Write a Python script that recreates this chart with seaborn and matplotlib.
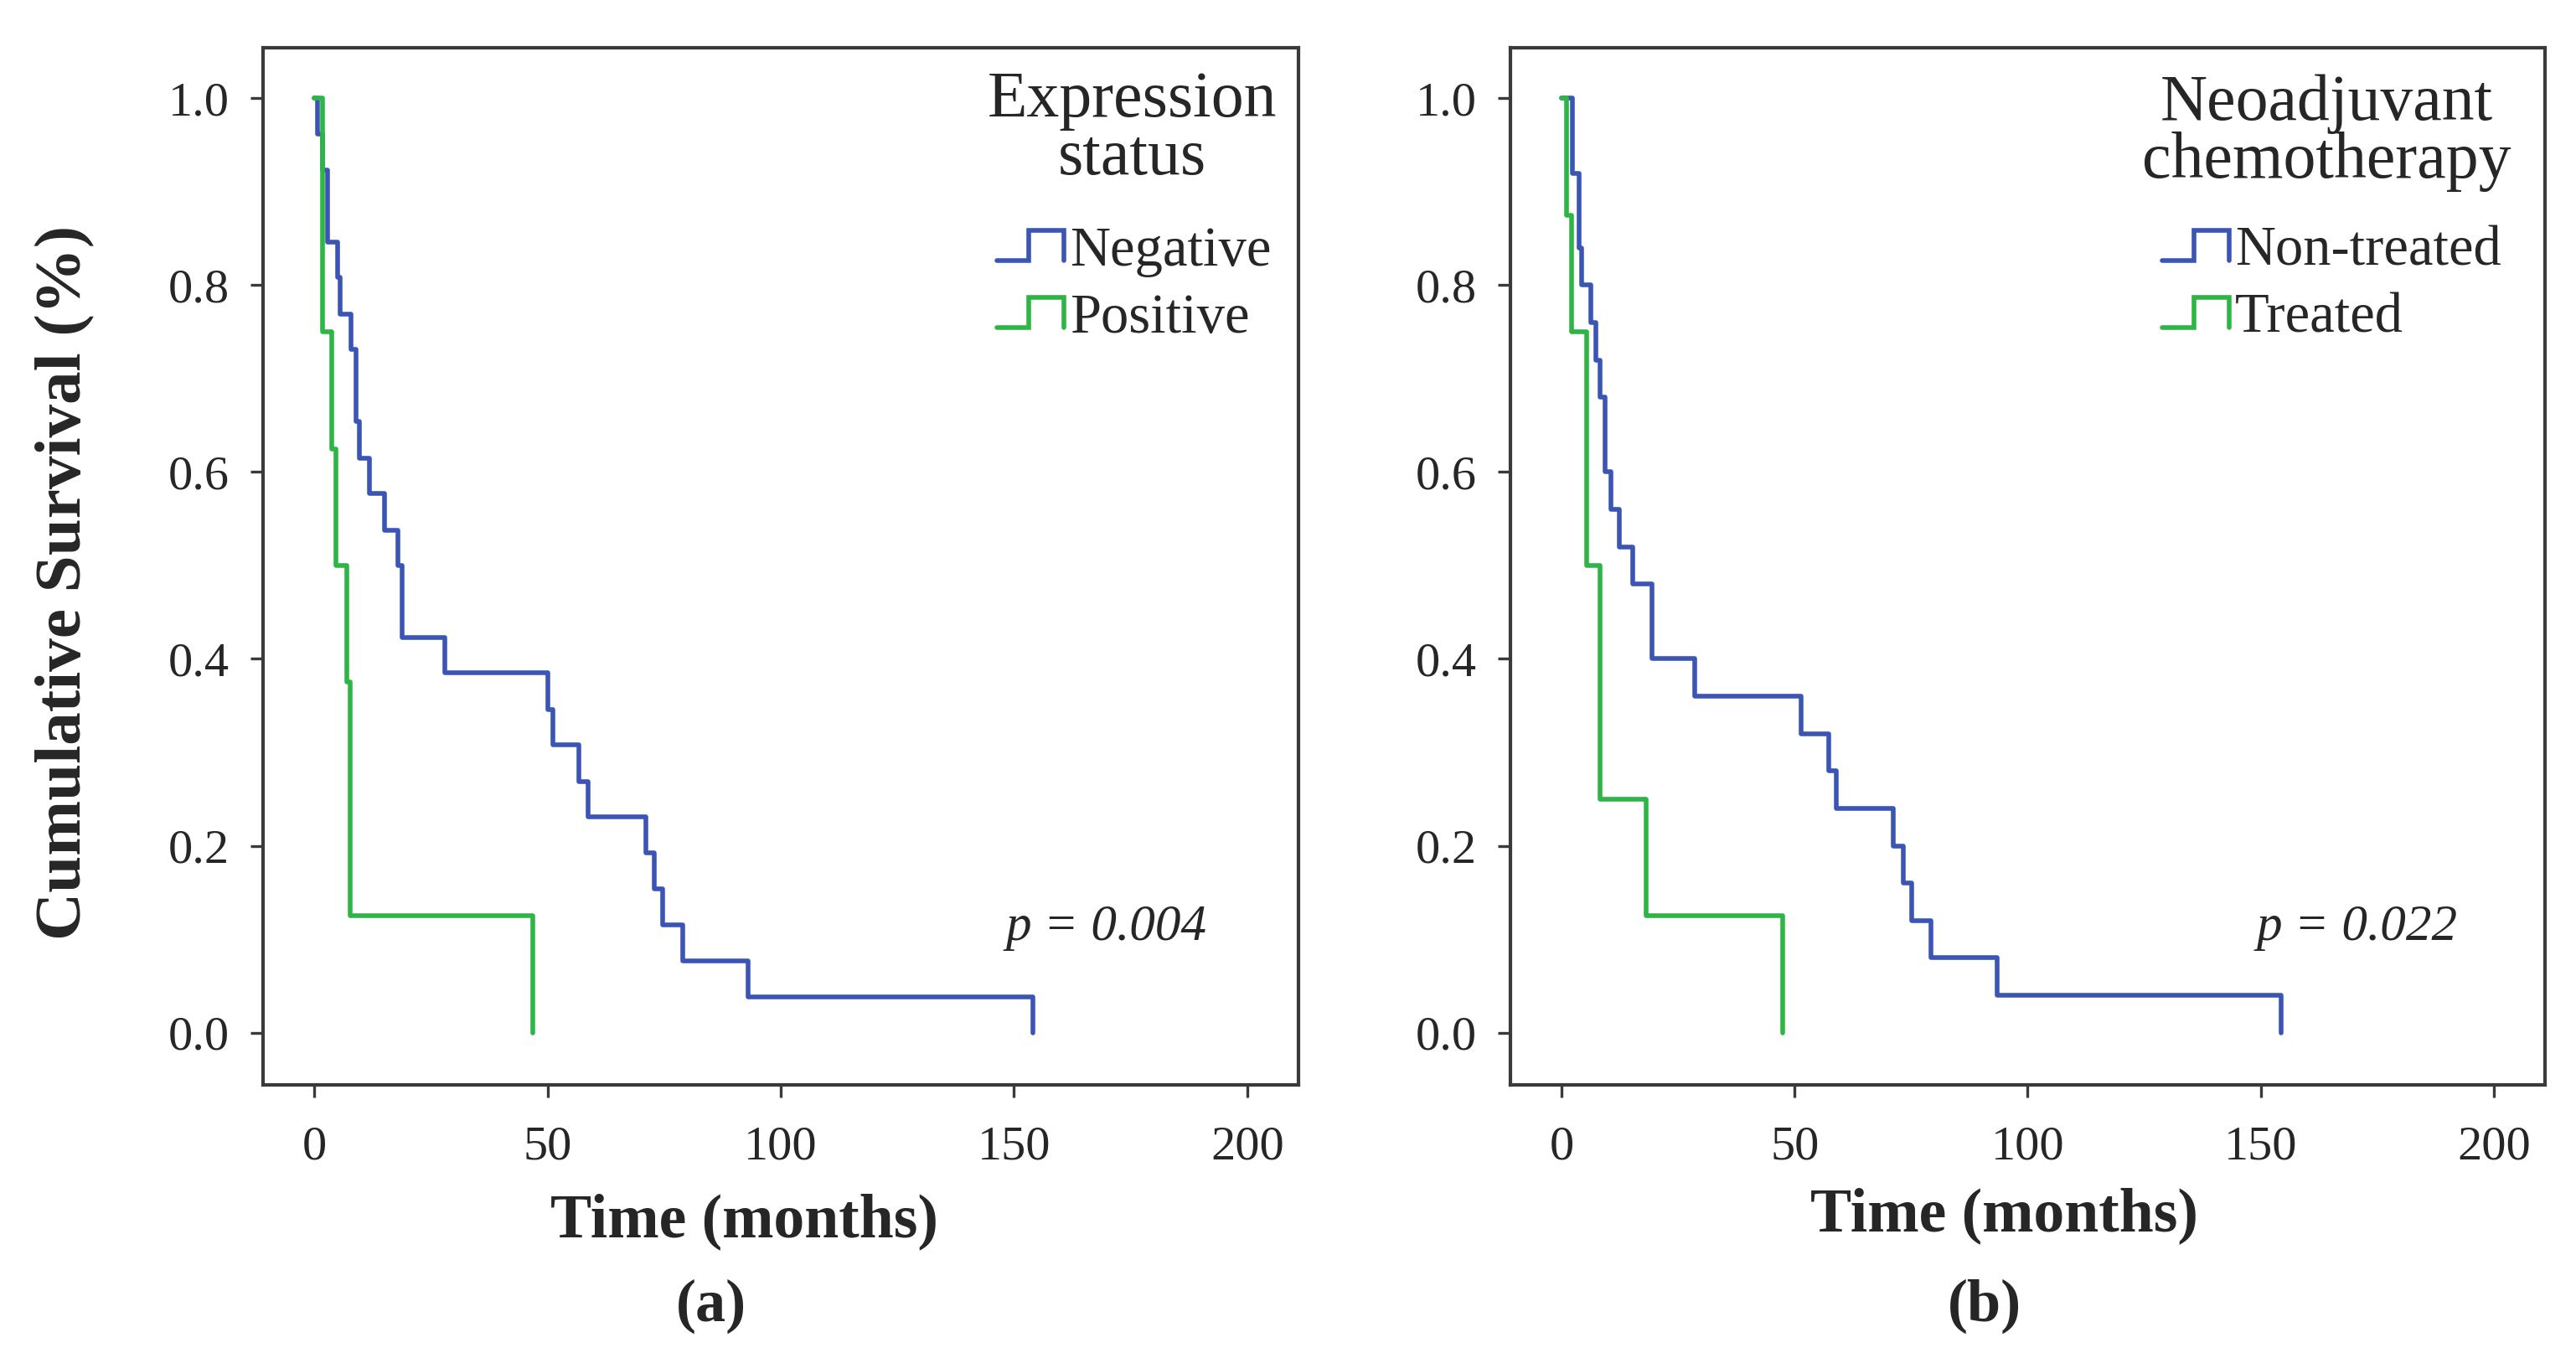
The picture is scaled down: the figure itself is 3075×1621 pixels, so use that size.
import numpy as np
import pandas as pd
import matplotlib.pyplot as plt
import seaborn as sns
from matplotlib.lines import Line2D
from matplotlib.legend_handler import HandlerBase

# (a) expression status - Kaplan-Meier steps
neg_t = [0, 0.6, 1.7, 2.8, 5.0, 5.6, 7.8, 9.0, 9.7, 11.9, 15.0, 18.0, 18.8, 27.9,
         50.0, 51.1, 56.8, 58.6, 71.0, 72.9, 74.6, 79.0, 93.0, 154.0]
neg_s = [1.0, 0.962, 0.923, 0.846, 0.808, 0.769, 0.731, 0.654, 0.615, 0.577, 0.538,
         0.5, 0.423, 0.385, 0.346, 0.308, 0.269, 0.231, 0.192, 0.154, 0.115, 0.077,
         0.038, 0.0]
pos_t = [0, 1.7, 3.8, 4.6, 7.0, 7.7, 46.9]
pos_s = [1.0, 0.75, 0.625, 0.5, 0.375, 0.125, 0.0]

# (b) neoadjuvant chemotherapy
non_t = [0, 2.3, 3.7, 4.3, 6.3, 7.4, 8.3, 9.3, 10.6, 12.3, 15.3, 19.4, 28.5, 51.4,
         57.4, 59.0, 71.2, 73.4, 75.1, 79.3, 93.4, 154.3]
non_s = [1.0, 0.92, 0.84, 0.80, 0.76, 0.72, 0.68, 0.60, 0.56, 0.52, 0.48, 0.40, 0.36,
         0.32, 0.28, 0.24, 0.20, 0.16, 0.12, 0.08, 0.04, 0.0]
trt_t = [0, 1.0, 2.1, 5.3, 8.3, 18.1, 47.4]
trt_s = [1.0, 0.875, 0.75, 0.5, 0.25, 0.125, 0.0]

panels = [
    {"groups": ["Negative", "Positive"], "t": [neg_t, pos_t], "s": [neg_s, pos_s],
     "title": "Expression\nstatus", "p": "p = 0.004", "tag": "(a)"},
    {"groups": ["Non-treated", "Treated"], "t": [non_t, trt_t], "s": [non_s, trt_s],
     "title": "Neoadjuvant\nchemotherapy", "p": "p = 0.022", "tag": "(b)"},
]

blue = "#3A55B4"
green = "#2DB545"
edge = "#3a3a3a"
lw = 2.0

sns.set_style("white")
plt.rcParams["font.family"] = ["Liberation Serif", "DejaVu Serif"]


class StepHandler(HandlerBase):
    # little "_|-|" step icon like the SPSS survival legend
    def create_artists(self, legend, orig_handle, xdescent, ydescent, width, height,
                       fontsize, trans):
        xs = np.array([0, 0.47, 0.47, 1.0, 1.0]) * width - xdescent
        ys = np.array([0.12, 0.12, 0.9, 0.9, 0.12]) * height - ydescent
        line = Line2D(xs, ys, color=orig_handle.get_color(),
                      lw=orig_handle.get_linewidth(), solid_joinstyle="miter")
        line.set_transform(trans)
        return [line]


fig = plt.figure(figsize=(15.375, 8.105), dpi=200)
axes = [fig.add_axes([0.1021, 0.2011, 0.402, 0.7637]),
        fig.add_axes([0.5863, 0.2011, 0.4017, 0.7637])]

title_pos = [(0.839, 0.921), (0.789, 0.918)]
leg_pos = [(0.7087, 0.828), (0.630, 0.828)]
p_pos = [(0.814, 0.152), (0.818, 0.152)]

for ax, pan, tpos, lpos, ppos in zip(axes, panels, title_pos, leg_pos, p_pos):
    rows = []
    for g, tt, ss in zip(pan["groups"], pan["t"], pan["s"]):
        rows.append(pd.DataFrame({"t": tt, "s": ss, "group": g}))
    df = pd.concat(rows, ignore_index=True)

    sns.lineplot(data=df, x="t", y="s", hue="group", hue_order=pan["groups"],
                 palette=[blue, green], estimator=None, sort=False,
                 drawstyle="steps-post", linewidth=lw, legend=False, ax=ax)

    ax.set_xlim(-11, 211)
    ax.set_ylim(-0.056, 1.054)
    ax.set_xticks([0, 50, 100, 150, 200])
    ax.set_yticks([0.0, 0.2, 0.4, 0.6, 0.8, 1.0])
    ax.set_yticklabels([f"{v:.1f}" for v in ax.get_yticks()])
    ax.set_xlabel("")
    ax.set_ylabel("")
    for sp in ax.spines.values():
        sp.set_visible(True)
        sp.set_color(edge)
        sp.set_linewidth(1.5)
    ax.tick_params(axis="both", direction="out", length=5.5, width=1.2, color=edge,
                   labelsize=21, left=True, bottom=True)
    ax.tick_params(axis="x", pad=12)
    ax.tick_params(axis="y", pad=9)

    handles = [Line2D([], [], color=c, lw=lw) for c in [blue, green]]
    ax.legend(handles, pan["groups"], handler_map={Line2D: StepHandler()},
              loc="upper left", bbox_to_anchor=lpos, frameon=False, fontsize=24,
              handlelength=1.2, handleheight=0.7, handletextpad=0.1,
              labelspacing=0.28, borderpad=0, borderaxespad=0)
    ax.text(tpos[0], tpos[1], pan["title"], transform=ax.transAxes, fontsize=28,
            ha="center", va="center", linespacing=0.95)
    ax.text(ppos[0], ppos[1], pan["p"], transform=ax.transAxes, fontsize=22,
            style="italic", ha="center", va="center")

fig.text(0.0254, 0.571, "Cumulative Survival (%)", rotation=90, fontsize=28.5,
         fontweight="bold", ha="center", va="center")
fig.text(0.2888, 0.1006, "Time (months)", fontsize=26.5, fontweight="bold",
         ha="center", va="center")
fig.text(0.7779, 0.1049, "Time (months)", fontsize=26.5, fontweight="bold",
         ha="center", va="center")
fig.text(0.2761, 0.0382, "(a)", fontsize=26, fontweight="bold", ha="center", va="center")
fig.text(0.7704, 0.0382, "(b)", fontsize=26, fontweight="bold", ha="center", va="center")

fig.savefig("out.png", dpi=200)
